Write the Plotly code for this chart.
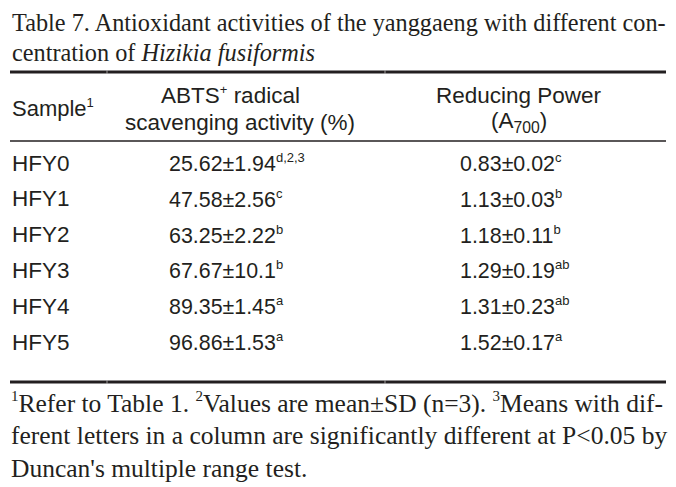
import plotly.graph_objects as go

samples = ["HFY0", "HFY1", "HFY2", "HFY3", "HFY4", "HFY5"]
abts_mean = ["25.62", "47.58", "63.25", "67.67", "89.35", "96.86"]
abts_sd = ["1.94", "2.56", "2.22", "10.1", "1.45", "1.53"]
abts_sup = ["d,2,3", "c", "b", "b", "a", "a"]
rp_mean = ["0.83", "1.13", "1.18", "1.29", "1.31", "1.52"]
rp_sd = ["0.02", "0.03", "0.11", "0.19", "0.23", "0.17"]
rp_sup = ["c", "b", "b", "ab", "ab", "a"]

SERIF = "Liberation Serif"
SANS = "Liberation Sans"
INK = "#231f20"


def sup(t, px):
    return f"<sup><span style='font-size:{px}px'>{t}</span></sup>"


title_lines = [
    "Table 7. Antioxidant activities of the yanggaeng with different con-",
    "centration of <i>Hizikia fusiformis</i>",
]
foot_lines = [
    f"{sup('1', 15)}Refer to Table 1. {sup('2', 15)}Values are mean±SD (n=3). {sup('3', 15)}Means with dif-",
    "ferent letters in a column are significantly different at P&lt;0.05 by",
    "Duncan's multiple range test.",
]

# page body has an 8px margin: shift the coordinate frame so data units == page pixels
OFF = 8
W, H = 676 - OFF, 487 - OFF

fig = go.Figure()
ann = []


def add(text, x, y, size, font, xanchor="left"):
    ann.append(dict(text=text, x=x, y=y, xref="x", yref="y", showarrow=False,
                    xanchor=xanchor, yanchor="middle",
                    font=dict(family=font, size=size, color=INK)))


# title
add(title_lines[0], 10, 22, 24.3, SERIF)
add(title_lines[1], 10, 52, 24.3, SERIF)

# header
HS = 22.5
NS = 22.5
TS = 21.4
SP = 13
add("Sample" + sup("1", SP), 10, 108, 22, SANS)
add("ABTS" + sup("+", SP) + " radical", 230, 95, HS, SANS, "center")
add("scavenging activity (%)", 240, 122, HS, SANS, "center")
add("Reducing Power", 519, 95, HS, SANS, "center")
add("(A<sub>700</sub>)", 519, 122, HS, SANS, "center")

row_y0, row_dy = 163, 35.8
for i, s in enumerate(samples):
    y = row_y0 + i * row_dy
    add(s, 10, y, NS, SANS)
    add(f"{abts_mean[i]}±{abts_sd[i]}" + sup(abts_sup[i], SP), 167, y, TS, SANS)
    add(f"{rp_mean[i]}±{rp_sd[i]}" + sup(rp_sup[i], SP), 458, y, TS, SANS)

for j, t in enumerate(foot_lines):
    add(t, 9, 403 + j * 32.5, 25.5, SERIF)

shapes = [
    dict(type="line", x0=10, x1=666, y0=72, y1=72, line=dict(color=INK, width=3)),
    dict(type="line", x0=10, x1=666, y0=141, y1=141, line=dict(color=INK, width=1.3)),
    dict(type="line", x0=10, x1=666, y0=382, y1=382, line=dict(color=INK, width=3)),
]
# faint column-join marks on the rules
for yy in (72, 382):
    for xx in (107, 385):
        shapes.append(dict(type="line", x0=xx, x1=xx, y0=yy - 1.5, y1=yy + 1.5,
                           line=dict(color="rgba(255,255,255,0.55)", width=1)))
for s in shapes:
    s.update(xref="x", yref="y")

fig.update_layout(
    width=W, height=H, margin=dict(l=0, r=0, t=0, b=0),
    paper_bgcolor="white", plot_bgcolor="white",
    xaxis=dict(range=[OFF, OFF + W], visible=False, fixedrange=True),
    yaxis=dict(range=[OFF + H, OFF], visible=False, fixedrange=True),
    annotations=ann, shapes=shapes, showlegend=False,
)
fig.write_html("out.html")
